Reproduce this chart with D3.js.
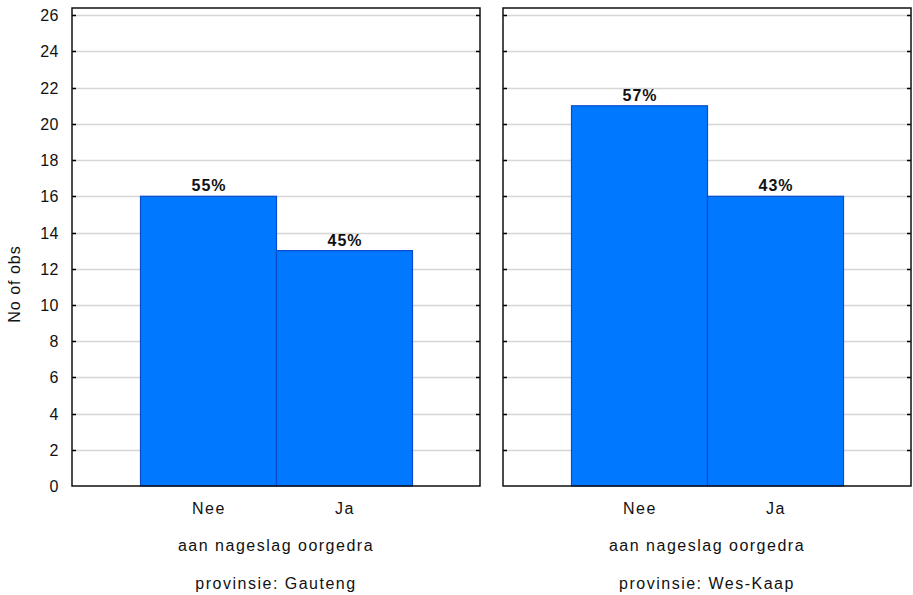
<!DOCTYPE html>
<html><head><meta charset="utf-8">
<script src="https://cdn.jsdelivr.net/npm/d3@7"></script>
<style>body{margin:0;background:#fff}svg{display:block}text{font-family:"Liberation Sans",Arial,sans-serif}</style>
</head><body><svg id="c" width="913" height="595"></svg>
<script>
const categories = ["Nee", "Ja"];
const provinces = ["Gauteng", "Wes-Kaap"];
const gautengValues = [16, 13];
const wesKaapValues = [21, 16];
const gautengPct = ["55%", "45%"];
const wesKaapPct = ["57%", "43%"];
const yTicks = [0,2,4,6,8,10,12,14,16,18,20,22,24,26];

const series = [
  {name: provinces[0], values: gautengValues, pct: gautengPct},
  {name: provinces[1], values: wesKaapValues, pct: wesKaapPct}
];

const svg = d3.select("#c");
const plotTop = 8, plotBottom = 486;
const panelX = [[72, 480], [503, 911]];
const y = d3.scaleLinear().domain([0, 26.4]).range([plotBottom, plotTop]);
const ls = "1.5px";

function label(g, x, yy, txt, opts = {}) {
  return g.append("text").attr("x", x).attr("y", yy)
    .attr("text-anchor", opts.anchor || "middle")
    .attr("font-size", opts.size || 16)
    .attr("font-weight", opts.weight || "normal")
    .attr("letter-spacing", opts.ls || ls)
    .attr("fill", "#111").text(txt);
}

series.forEach((s, i) => {
  const [x0, x1] = panelX[i];
  const x = d3.scaleBand().domain(categories).range([x0, x1]).paddingInner(0).paddingOuter(0.5);
  const g = svg.append("g");
  g.selectAll("line.grid").data(yTicks.filter(t => t > 0)).join("line")
    .attr("x1", x0).attr("x2", x1)
    .attr("y1", d => Math.round(y(d)) + 0.5).attr("y2", d => Math.round(y(d)) + 0.5)
    .attr("stroke", "#d6d6d6").attr("stroke-width", 1.3);
  g.selectAll("rect.bar").data(s.values).join("rect")
    .attr("x", (d, j) => x(categories[j]) + 0.5)
    .attr("y", d => y(d))
    .attr("width", x.bandwidth())
    .attr("height", d => plotBottom - y(d))
    .attr("fill", "#0078ff").attr("stroke", "#0a4ccc").attr("stroke-width", 1.2);
  s.values.forEach((d, j) => {
    label(g, x(categories[j]) + x.bandwidth() / 2 + 1, y(d) - 5, s.pct[j], {weight: "bold", ls: "1px"});
  });
  const ticks = yTicks.filter(t => t > 0);
  g.selectAll("line.tl").data(ticks).join("line")
    .attr("x1", x0).attr("x2", x0 + 4)
    .attr("y1", d => Math.round(y(d)) + 0.5).attr("y2", d => Math.round(y(d)) + 0.5)
    .attr("stroke", "#000").attr("stroke-width", 1.5);
  g.selectAll("line.tr").data(ticks).join("line")
    .attr("x1", x1 - 4).attr("x2", x1)
    .attr("y1", d => Math.round(y(d)) + 0.5).attr("y2", d => Math.round(y(d)) + 0.5)
    .attr("stroke", "#000").attr("stroke-width", 1.5);
  g.append("rect").attr("x", x0).attr("y", plotTop).attr("width", x1 - x0).attr("height", plotBottom - plotTop)
    .attr("fill", "none").attr("stroke", "#111").attr("stroke-width", 1.5);
  categories.forEach(c => label(g, x(c) + x.bandwidth() / 2 + 1, 514, c));
  const cx = (x0 + x1) / 2;
  label(g, cx, 551, "aan nageslag oorgedra");
  label(g, cx, 589, "provinsie: " + s.name);
});

const gy = svg.append("g");
yTicks.forEach(t => label(gy, 59, y(t) + 6, t, {anchor: "end", ls: "0.5px"}));
gy.append("text").attr("transform", "translate(20,284) rotate(-90)")
  .attr("text-anchor", "middle").attr("font-size", 16).attr("letter-spacing", "1px")
  .attr("fill", "#111").text("No of obs");
</script></body></html>
